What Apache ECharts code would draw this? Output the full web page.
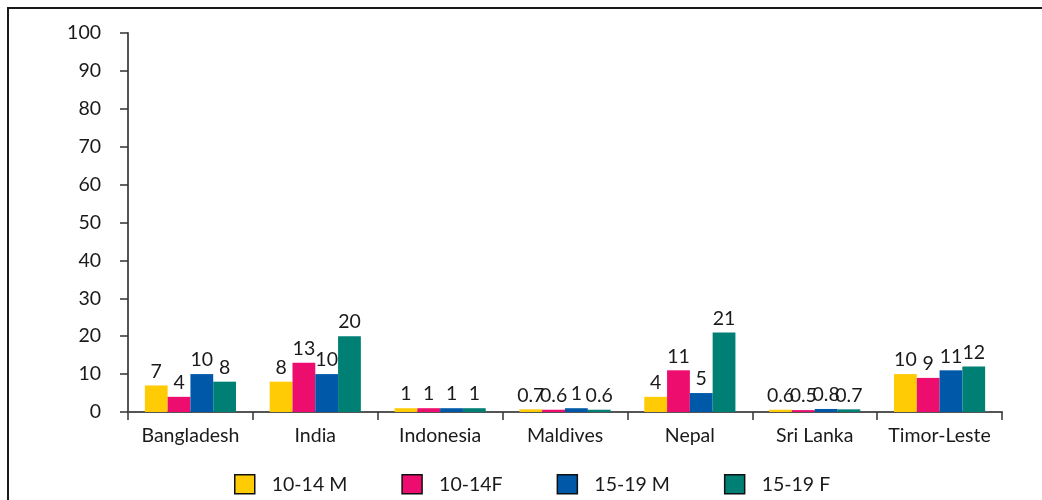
<!DOCTYPE html>
<html>
<head>
<meta charset="utf-8">
<script src="https://cdn.jsdelivr.net/npm/echarts@6/dist/echarts.min.js"></script>
<style>
  html, body { margin: 0; padding: 0; background: #fff; }
  #chart { width: 1042px; height: 500px; }
</style>
</head>
<body>
<div id="chart"></div>
<script>
// Countries on the category axis
const countries = ['Bangladesh', 'India', 'Indonesia', 'Maldives', 'Nepal', 'Sri Lanka', 'Timor-Leste'];

// Percentages by age group and sex
const male10to14   = [7, 8, 1, 0.7, 4, 0.6, 10];
const female10to14 = [4, 13, 1, 0.6, 11, 0.5, 9];
const male15to19   = [10, 10, 1, 1, 5, 0.8, 11];
const female15to19 = [8, 20, 1, 0.6, 21, 0.7, 12];

const seriesNames = ['10-14 M', '10-14F', '15-19 M', '15-19 F'];
const seriesColors = ['#FFCB05', '#EC0D6E', '#0058A8', '#007F74'];
const seriesData = [male10to14, female10to14, male15to19, female15to19];

const FONT = 'Lato, "Open Sans", sans-serif';
const FS = 19.5;

const chart = echarts.init(document.getElementById('chart'));
chart.setOption({
  animation: false,
  backgroundColor: '#fff',
  textStyle: { fontFamily: FONT },
  graphic: [{
    type: 'rect',
    shape: { x: 8, y: 8, width: 1060, height: 520 },
    style: { fill: 'none', stroke: '#1a1a1a', lineWidth: 2 },
    silent: true
  }],
  grid: { left: 128, right: 40, top: 33, bottom: 88 },
  legend: {
    top: 469,
    left: 229,
    itemWidth: 20,
    itemHeight: 19,
    itemGap: 54,
    icon: 'rect',
    itemStyle: { borderColor: '#111', borderWidth: 1.5 },
    textStyle: { fontFamily: FONT, fontSize: FS, color: '#1a1a1a', padding: [0, 0, 0, 12] },
    data: seriesNames
  },
  xAxis: {
    type: 'category',
    data: countries,
    axisLine: { lineStyle: { color: '#555', width: 2 } },
    axisTick: { show: true, length: 8, lineStyle: { color: '#333', width: 1.5 } },
    axisLabel: { color: '#1a1a1a', fontSize: FS, margin: 14, fontFamily: FONT, interval: 0 }
  },
  yAxis: {
    type: 'value',
    min: 0,
    max: 100,
    interval: 10,
    splitLine: { show: false },
    axisLine: { show: true, lineStyle: { color: '#555', width: 2 } },
    axisTick: { show: true, length: 8, lineStyle: { color: '#333', width: 1.5 } },
    axisLabel: { color: '#1a1a1a', fontSize: FS, margin: 27, fontFamily: FONT }
  },
  series: seriesData.map((d, i) => ({
    name: seriesNames[i],
    type: 'bar',
    data: d,
    barGap: '0%',
    barCategoryGap: '27%',
    itemStyle: { color: seriesColors[i] },
    label: {
      show: true,
      position: 'top',
      distance: 4,
      color: '#1a1a1a',
      fontSize: FS,
      fontFamily: FONT
    }
  }))
});
</script>
</body>
</html>
